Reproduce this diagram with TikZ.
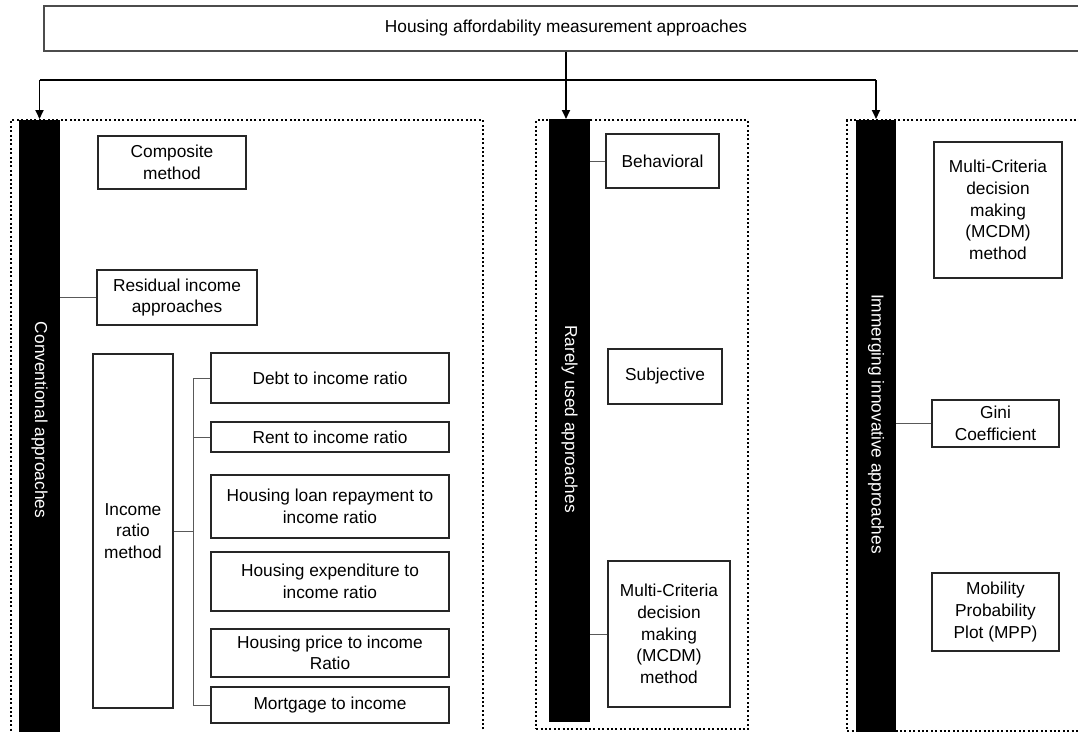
\documentclass[tikz,border=0pt]{standalone}
\usepackage{fontspec}
\setmainfont{Liberation Sans}
\usetikzlibrary{arrows.meta}
\begin{document}
\begin{tikzpicture}[x=1pt,y=-1pt,
  lbl/.style={font=\fontsize{17.3}{21.6}\selectfont, align=center, text=black},
  box/.style={lbl, draw=black!85, line width=1.3pt, inner sep=0pt},
  grp/.style={draw=black, line width=2.3pt, dash pattern=on 2pt off 2.4pt, inner sep=0pt},
  bar/.style={fill=black, draw=none, inner sep=0pt},
  conn/.style={draw=black!65, line width=0.9pt},
  trunk/.style={draw=black, line width=1.8pt},
  arr/.style={draw=black, line width=1.8pt, -{Triangle[length=9pt,width=8pt]}},
  bartext/.style={font=\fontsize{17.3}{21.6}\selectfont, text=white, rotate=-90, inner sep=0pt}
]
\useasboundingbox (0,0) rectangle (1078,731);
\fill[white] (0,0) rectangle (1078,731);

% top box
\node[box, draw=black!70, line width=1.5pt, minimum width=1044pt, minimum height=45pt] (top) at (566,28.5) {Housing affordability measurement approaches};

% group frames
\node[grp, minimum width=472pt, minimum height=630pt, anchor=north west] (lgrp) at (10,119) {};
\node[grp, minimum width=212pt, minimum height=609pt, anchor=north west] (mgrp) at (535,119) {};
\node[grp, minimum width=260pt, minimum height=611pt, anchor=north west] (rgrp) at (846,119) {};

% bars
\node[bar, minimum width=41pt, minimum height=620pt, anchor=north] (lbar) at (39.5,120) {};
\node[bar, minimum width=41pt, minimum height=603pt, anchor=north] (mbar) at (569.5,119) {};
\node[bar, minimum width=40pt, minimum height=612pt, anchor=north] (rbar) at (876,120) {};
\node[bartext] (ltxt) at (39.5,420) {Conventional approaches};
\node[bartext] (mtxt) at (569.5,419) {Rarely used approaches};
\node[bartext] (rtxt) at (876,424) {Immerging innovative approaches};

% arrows
\coordinate (hy) at (0,80);
\draw[trunk] (lbar.north |- hy) -- (rbar.north |- hy);
\draw[arr] (top.south) -- (top.south |- mgrp.north);
\draw[arr] (lbar.north |- hy) -- (lbar.north |- lgrp.north);
\draw[arr] (rbar.north |- hy) -- (rbar.north |- rgrp.north);

% left group
\node[box, minimum width=148pt, minimum height=53pt] (comp) at (172,162.5) {Composite\\method};
\node[box, minimum width=160pt, minimum height=55pt] (resid) at (177,297.5) {Residual income\\approaches};
\node[box, minimum width=80pt, minimum height=354pt] (income) at (133,531) {Income\\ratio\\method};
\node[box, minimum width=238pt, minimum height=50pt] (debt) at (330,378) {Debt to income ratio};
\node[box, minimum width=238pt, minimum height=30pt] (rent) at (330,437) {Rent to income ratio};
\node[box, minimum width=238pt, minimum height=63pt] (loan) at (330,506.5) {Housing loan repayment to\\income ratio};
\node[box, minimum width=238pt, minimum height=59pt] (exp) at (330,581.5) {Housing expenditure to\\income ratio};
\node[box, minimum width=238pt, minimum height=48pt] (price) at (330,653) {Housing price to income\\Ratio};
\node[box, minimum width=238pt, minimum height=36pt] (mort) at (330,705) {Mortgage to income};

\draw[conn] (resid.west) -- (resid.west -| lbar.east);
\coordinate (vt) at (193,378);
\draw[conn] (debt.west) -- (vt) -- (vt |- mort.west) -- (mort.west);
\draw[conn] (rent.west) -- (rent.west -| vt);
\draw[conn] (income.east) -- (income.east -| vt);

% middle group
\node[box, minimum width=113pt, minimum height=54pt] (behav) at (662.5,161) {Behavioral};
\node[box, minimum width=114pt, minimum height=55pt] (subj) at (665,376.5) {Subjective};
\node[box, minimum width=122pt, minimum height=146pt] (mcdm1) at (669,634) {Multi-Criteria\\decision\\making\\(MCDM)\\method};
\draw[conn] (behav.west) -- (behav.west -| mbar.east);
\draw[conn] (mcdm1.west) -- (mcdm1.west -| mbar.east);

% right group
\node[box, minimum width=128pt, minimum height=136pt] (mcdm2) at (998,210) {Multi-Criteria\\decision\\making\\(MCDM)\\method};
\node[box, minimum width=127pt, minimum height=47pt] (gini) at (995.5,423.5) {Gini\\Coefficient};
\node[box, minimum width=127pt, minimum height=78pt] (mob) at (995.5,612) {Mobility\\Probability\\Plot (MPP)};
\draw[conn] (gini.west) -- (gini.west -| rbar.east);
\end{tikzpicture}
\end{document}
